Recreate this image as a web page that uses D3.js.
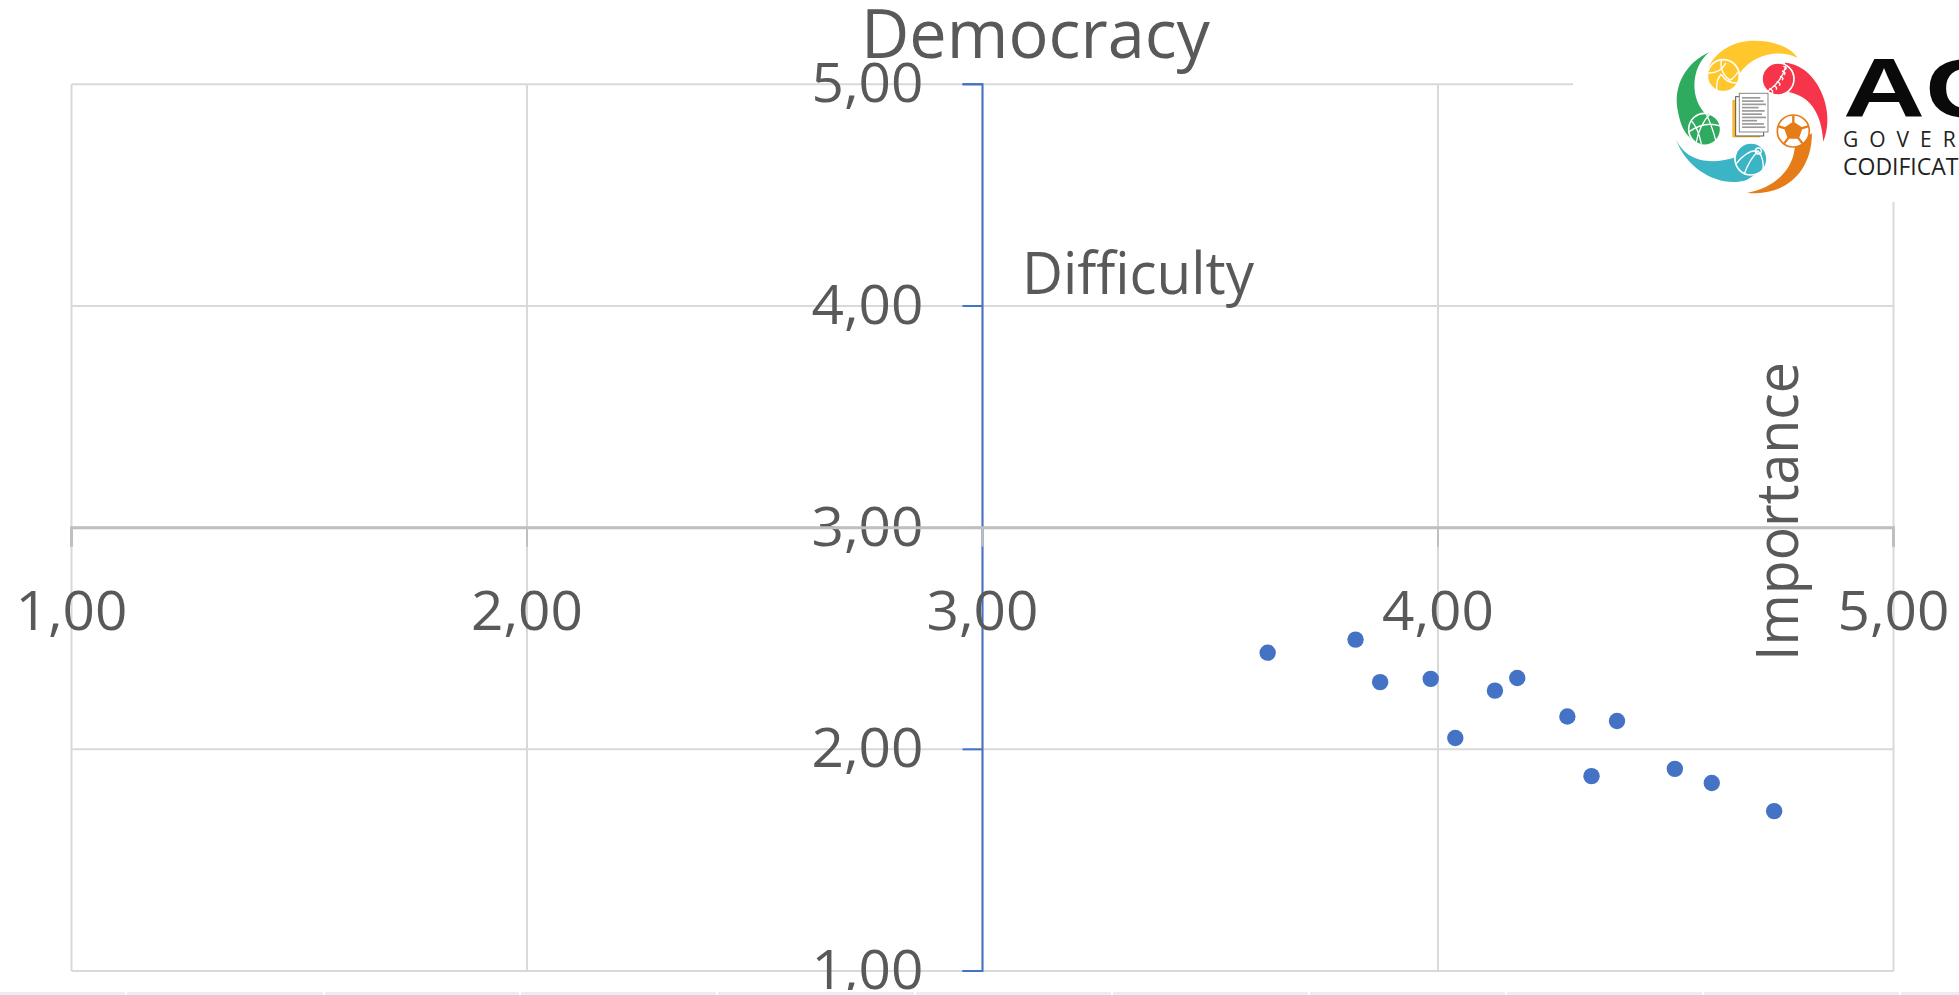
<!DOCTYPE html>
<html>
<head>
<meta charset="utf-8">
<script src="https://cdn.jsdelivr.net/npm/d3@7"></script>
<style>
html,body{margin:0;padding:0;background:#fff;overflow:hidden}
svg{display:block}
text{font-family:"Open Sans",sans-serif;fill:#595959}
</style>
</head>
<body>
<svg id="c" width="1959" height="995"></svg>
<script>
const titleText = "Democracy";
const xTitleText = "Importance";
const yTitleText = "Difficulty";
const tickValues = [1, 2, 3, 4, 5];
const importance = [3.626, 3.819, 3.873, 3.984, 4.038, 4.125, 4.174, 4.284, 4.337, 4.393, 4.520, 4.601, 4.738];
const difficulty = [2.436, 2.495, 2.303, 2.318, 2.051, 2.265, 2.322, 2.148, 1.879, 2.128, 1.912, 1.848, 1.721];

const svg = d3.select("#c");
const x = d3.scaleLinear().domain([1, 5]).range([71.5, 1893.5]);
const y = d3.scaleLinear().domain([1, 5]).range([971, 84.3]);
const fmt = v => d3.format(".2f")(v).replace(".", ",");

// gridlines
const grid = svg.append("g").attr("stroke", "#d9d9d9").attr("stroke-width", 2);
grid.selectAll(".gx").data(tickValues).join("line")
  .attr("x1", d => x(d)).attr("x2", d => x(d))
  .attr("y1", y(5)).attr("y2", y(1));
grid.selectAll(".gy").data(tickValues).join("line")
  .attr("x1", x(1)).attr("x2", x(5))
  .attr("y1", d => y(d)).attr("y2", d => y(d));

// vertical axis, crossing at 3
const yAxis = svg.append("g").attr("transform", `translate(${x(3)},0)`)
  .call(d3.axisLeft(y).offset(0).tickValues(tickValues).tickFormat(fmt).tickSize(20).tickPadding(39));
yAxis.select(".domain").attr("stroke", "#4472c4").attr("stroke-width", 2);
yAxis.selectAll(".tick line").attr("stroke", d => d === 3 ? "#c4cad6" : "#4472c4").attr("stroke-width", 2);

// horizontal axis, crossing at 3
const xAxis = svg.append("g").attr("transform", `translate(0,${y(3)})`)
  .call(d3.axisBottom(x).offset(0).tickValues(tickValues).tickFormat(fmt).tickSize(19).tickPadding(47));
xAxis.select(".domain").attr("stroke", "#bfbfbf").attr("stroke-width", 3);
xAxis.selectAll(".tick line").attr("stroke", "#bfbfbf").attr("stroke-width", 2);

svg.selectAll(".tick text")
  .style("font-family", '"Open Sans",sans-serif')
  .style("font-size", "55px")
  .style("fill", "#595959")
  .attr("textLength", 112).attr("lengthAdjust", "spacingAndGlyphs");
yAxis.selectAll(".tick text").attr("dy", "18px");
xAxis.selectAll(".tick text").attr("dy", "0").attr("y", 102);

// markers
svg.append("g").selectAll("circle").data(importance).join("circle")
  .attr("cx", d => x(d))
  .attr("cy", (d, i) => y(difficulty[i]))
  .attr("r", 8.2)
  .attr("fill", "#4472c4");

// titles
svg.append("text").attr("x", 861).attr("y", 58)
  .attr("textLength", 349).attr("lengthAdjust", "spacingAndGlyphs")
  .style("font-size", "68px").text(titleText);
svg.append("text").attr("x", 1022).attr("y", 294)
  .attr("textLength", 232).attr("lengthAdjust", "spacingAndGlyphs")
  .style("font-size", "58px").text(yTitleText);
svg.append("text").attr("transform", "translate(1797.5,661) rotate(-90)")
  .attr("textLength", 299).attr("lengthAdjust", "spacingAndGlyphs")
  .style("font-size", "58px").text(xTitleText);

// logo panel
svg.append("rect").attr("x", 1573).attr("y", 0).attr("width", 386).attr("height", 202).attr("fill", "#fff");
const logo = svg.append("g").attr("transform", "translate(1640,0) scale(0.3333)");
const swoosh = [
  ["#ffc72c", "M205,205 C225,150 290,120 345,122 C400,122 450,140 473,173 C420,150 345,155 295,225 Z"],
  ["#2eab5f", "M207,157 C135,190 100,260 113,330 C120,370 130,395 152,415 L200,345 C150,300 150,205 207,157 Z"],
  ["#3bb4c6", "M108,418 C140,510 240,565 320,540 L375,505 L290,470 C220,495 140,490 108,418 Z"],
  ["#e57c17", "M322,578 C420,590 515,530 516,400 L465,430 C465,510 400,565 322,578 Z"],
  ["#f6344a", "M550,425 C590,330 530,195 435,188 L440,275 C510,285 545,340 550,425 Z"]
];
logo.selectAll(".sw").data(swoosh).join("path").attr("d", d => d[1]).attr("fill", d => d[0]);

// the five balls, each with its own seams (drawn relative to the ball's centre)
const balls = [
  { c: [250, 227], fill: "#ffc72c", seams: "M-6,-48 Q-12,-8 20,14 M-46,-8 Q-10,-6 8,-38 M-20,44 Q-22,10 -6,-4 M44,22 Q10,24 -6,-4 M46,-14 Q34,6 20,14" },
  { c: [194, 388], fill: "#2eab5f", seams: "M-48,8 Q0,-26 46,-10 M-26,42 Q-16,-14 16,-46 M34,36 Q24,-4 4,-48 M-40,-26 Q-20,-6 -10,44" },
  { c: [333, 477], fill: "#3bb4c6", seams: "M-46,16 Q-10,-30 22,-24 M-20,44 Q-4,0 22,-24 M36,34 Q40,0 22,-24 M22,-24 m-9,0 a9,9 0 1 0 18,0 a9,9 0 1 0 -18,0" },
  { c: [460, 393], fill: "#fff", edge: "#e57c17", seams: "M0,-46 L0,-24 M-44,-14 L-24,-8 M44,-14 L24,-8 M-28,38 L-14,20 M28,38 L14,20 M0,-24 L24,-8 L14,20 L-14,20 L-24,-8 Z" },
  { c: [414, 237], fill: "#f6344a", seams: "M-30,36 Q10,10 24,-40 M-18,44 Q-12,34 -26,28 M-6,32 Q0,24 -14,20 M4,20 Q10,12 -4,8 M12,4 Q20,-4 6,-8 M18,-12 Q26,-20 12,-24 M22,-28 Q30,-36 16,-38" }
];
const ball = logo.selectAll(".ball").data(balls).join("g")
  .attr("transform", d => `translate(${d.c[0]},${d.c[1]})`);
ball.append("circle").attr("r", 48).attr("fill", d => d.fill)
  .attr("stroke", d => d.edge || "#fff").attr("stroke-width", 5);
ball.append("path").attr("d", d => d.seams).attr("fill", d => d.edge ? d.edge : "none")
  .attr("stroke", d => d.edge || "#fff").attr("stroke-width", d => d.edge ? 7 : 4);

logo.append("rect").attr("x", 277).attr("y", 300).attr("width", 84).attr("height", 112).attr("fill", "#f9b92c");
logo.append("rect").attr("x", 287).attr("y", 290).attr("width", 84).attr("height", 118).attr("fill", "#fff").attr("stroke", "#555").attr("stroke-width", 3);
logo.append("rect").attr("x", 298).attr("y", 280).attr("width", 86).attr("height", 116).attr("fill", "#fff").attr("stroke", "#888").attr("stroke-width", 3);
const docLines = [55, 65, 72, 50, 68, 60, 72, 45, 66, 70];
logo.selectAll(".dl").data(docLines).join("rect")
  .attr("x", 306).attr("y", (d, i) => 291 + i * 9.8).attr("width", d => d).attr("height", 5).attr("fill", "#9a9a9a");

svg.append("text").attr("x", 1843).attr("y", 117)
  .attr("textLength", 164).attr("lengthAdjust", "spacingAndGlyphs")
  .style("font-family", '"Liberation Sans",sans-serif').style("font-weight", 700)
  .style("font-size", "84px").style("fill", "#0a0a0a").text("AC");
svg.append("text").attr("x", 1843).attr("y", 146.5)
  .style("font-family", '"Open Sans",sans-serif').style("font-size", "21px")
  .style("letter-spacing", "11px").style("fill", "#222").text("GOVER");
svg.append("text").attr("x", 1843).attr("y", 175)
  .style("font-family", '"Open Sans",sans-serif').style("font-size", "23px")
  .style("fill", "#222").text("CODIFICAT");

// bottom strip
svg.append("rect").attr("x", 0).attr("y", 990).attr("width", 1959).attr("height", 5).attr("fill", "#fff");
const stripEdges = [-72, 125, 323, 519, 716, 914, 1111, 1308, 1505, 1702, 1899, 2096];
svg.selectAll(".strip").data(d3.pairs(stripEdges)).join("rect")
  .attr("x", d => d[0] + 2).attr("y", 992).attr("width", d => d[1] - d[0] - 2).attr("height", 3)
  .attr("fill", "#e9edf8");
</script>
</body>
</html>
